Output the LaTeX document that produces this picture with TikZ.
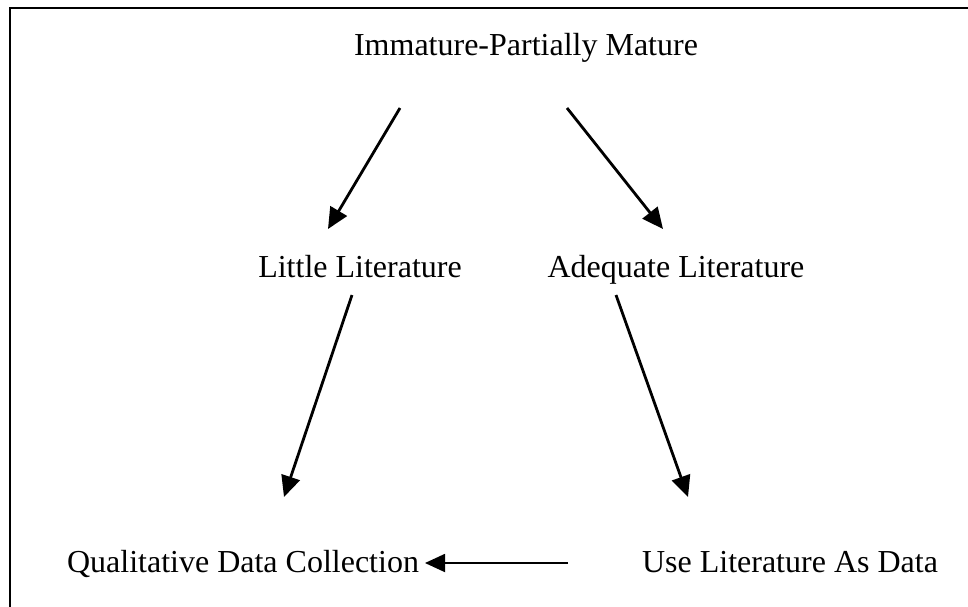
\documentclass[tikz,border=0pt]{standalone}
\usepackage{fontspec}
\setmainfont{Liberation Serif}
\usetikzlibrary{arrows.meta,positioning,calc}

\begin{document}
\begin{tikzpicture}[x=0.5pt,y=-0.5pt,
  lbl/.style={font=\fontsize{16}{19}\selectfont, inner sep=0pt, anchor=base},
  arr/.style={-{Triangle[length=10.5pt,width=9.5pt]}, line width=1.4pt},
  harr/.style={-{Triangle[length=10pt,width=9pt]}, line width=0.9pt}]
  \useasboundingbox (0,0) rectangle (968,606);
  \clip (0,0) rectangle (968,606);
  \draw[line width=1pt] (10,8) rectangle (1000,650); % frame, right and bottom side cut off
  % labels
  \node[lbl] (imm) at (526,55) {Immature-Partially Mature};
  \node[lbl] (little) at (360,277) {Little Literature};
  \node[lbl] (adeq) at (676,277) {Adequate Literature};
  \node[lbl] (qual) at (243,572) {Qualitative Data Collection};
  \node[lbl] (uselit) at (790,572) {Use Literature As Data};
  % free ends of the arrows
  \coordinate (imm-l) at (400,108);
  \coordinate (imm-r) at (567,108);
  \coordinate (little-in) at (328,229);
  \coordinate (adeq-in) at (663,229);
  \coordinate (little-out) at (352,295);
  \coordinate (adeq-out) at (616,295);
  \coordinate (qual-in) at (284,497);
  \coordinate (uselit-in) at (688,497);
  \coordinate (uselit-l) at (568,563);
  \coordinate (qual-r) at (425,563);
  \draw[arr] (imm-l) -- (little-in);
  \draw[arr] (imm-r) -- (adeq-in);
  \draw[arr] (little-out) -- (qual-in);
  \draw[arr] (adeq-out) -- (uselit-in);
  \draw[harr] (uselit-l) -- (qual-r);
\end{tikzpicture}
\end{document}
